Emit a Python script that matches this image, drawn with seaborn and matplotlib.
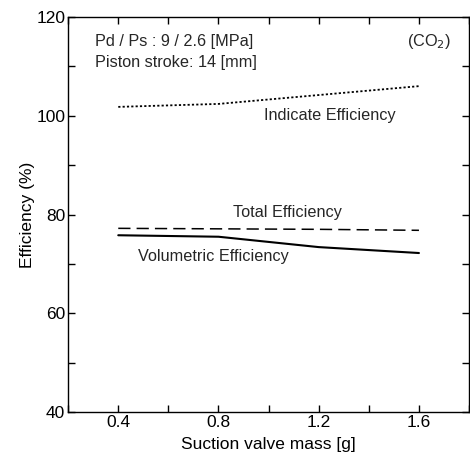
import numpy as np
import pandas as pd
import matplotlib
matplotlib.use("Agg")
import matplotlib.pyplot as plt
import seaborn as sns
from matplotlib.ticker import MultipleLocator

mass = [0.4, 0.8, 1.2, 1.6]
indicate_eff = [101.8, 102.4, 104.2, 106.0]
total_eff = [77.2, 77.1, 77.0, 76.8]
volumetric_eff = [75.8, 75.5, 73.4, 72.2]

sns.set_theme(style="ticks")
plt.rcParams['font.family'] = ['Liberation Sans', 'DejaVu Sans']

fig = plt.figure(figsize=(4.70, 4.54), dpi=100)
ax = fig.add_axes([0.145, 0.0925, 0.853, 0.870])

df = pd.DataFrame({"mass": mass, "Indicate": indicate_eff,
                   "Total": total_eff, "Volumetric": volumetric_eff})

sns.lineplot(data=df, x="mass", y="Indicate", ax=ax, color="black",
             lw=1.3, linestyle=(0, (1.2, 1.2)))
sns.lineplot(data=df, x="mass", y="Total", ax=ax, color="black",
             lw=1.1, linestyle=(0, (8, 4)))
sns.lineplot(data=df, x="mass", y="Volumetric", ax=ax, color="black",
             lw=1.5, linestyle="-")

ax.set_xlim(0.2, 1.8)
ax.set_ylim(40, 120)
ax.set_xticks([0.4, 0.8, 1.2, 1.6])
ax.set_xticklabels(["0.4", "0.8", "1.2", "1.6"])
ax.xaxis.set_minor_locator(MultipleLocator(0.2))
ax.set_yticks([40, 60, 80, 100, 120])
ax.yaxis.set_minor_locator(MultipleLocator(10))
ax.tick_params(which="both", direction="in", top=True, right=True,
               labelsize=12.5, color="black", labelcolor="black", pad=2)
ax.tick_params(which="major", length=5, width=1)
ax.tick_params(which="minor", length=5, width=1)
for s in ax.spines.values():
    s.set_color("black")
    s.set_linewidth(1.0)

ax.set_xlabel("Suction valve mass [g]", fontsize=12.5, color="black", labelpad=5)
ax.set_ylabel("Efficiency (%)", fontsize=12.5, color="black", labelpad=1)

fs = 11.7
ax.text(0.067, 0.937, "Pd / Ps : 9 / 2.6 [MPa]", transform=ax.transAxes,
        fontsize=fs, ha="left", va="center")
ax.text(0.067, 0.884, "Piston stroke: 14 [mm]", transform=ax.transAxes,
        fontsize=fs, ha="left", va="center")
ax.text(0.955, 0.937, "(CO$_2$)", transform=ax.transAxes,
        fontsize=fs, ha="right", va="center")
ax.text(1.244, 100.0, "Indicate Efficiency", fontsize=fs, ha="center", va="center")
ax.text(1.074, 80.5, "Total Efficiency", fontsize=fs, ha="center", va="center")
ax.text(0.78, 71.4, "Volumetric Efficiency", fontsize=fs, ha="center", va="center")

fig.savefig("out.png", dpi=100)
